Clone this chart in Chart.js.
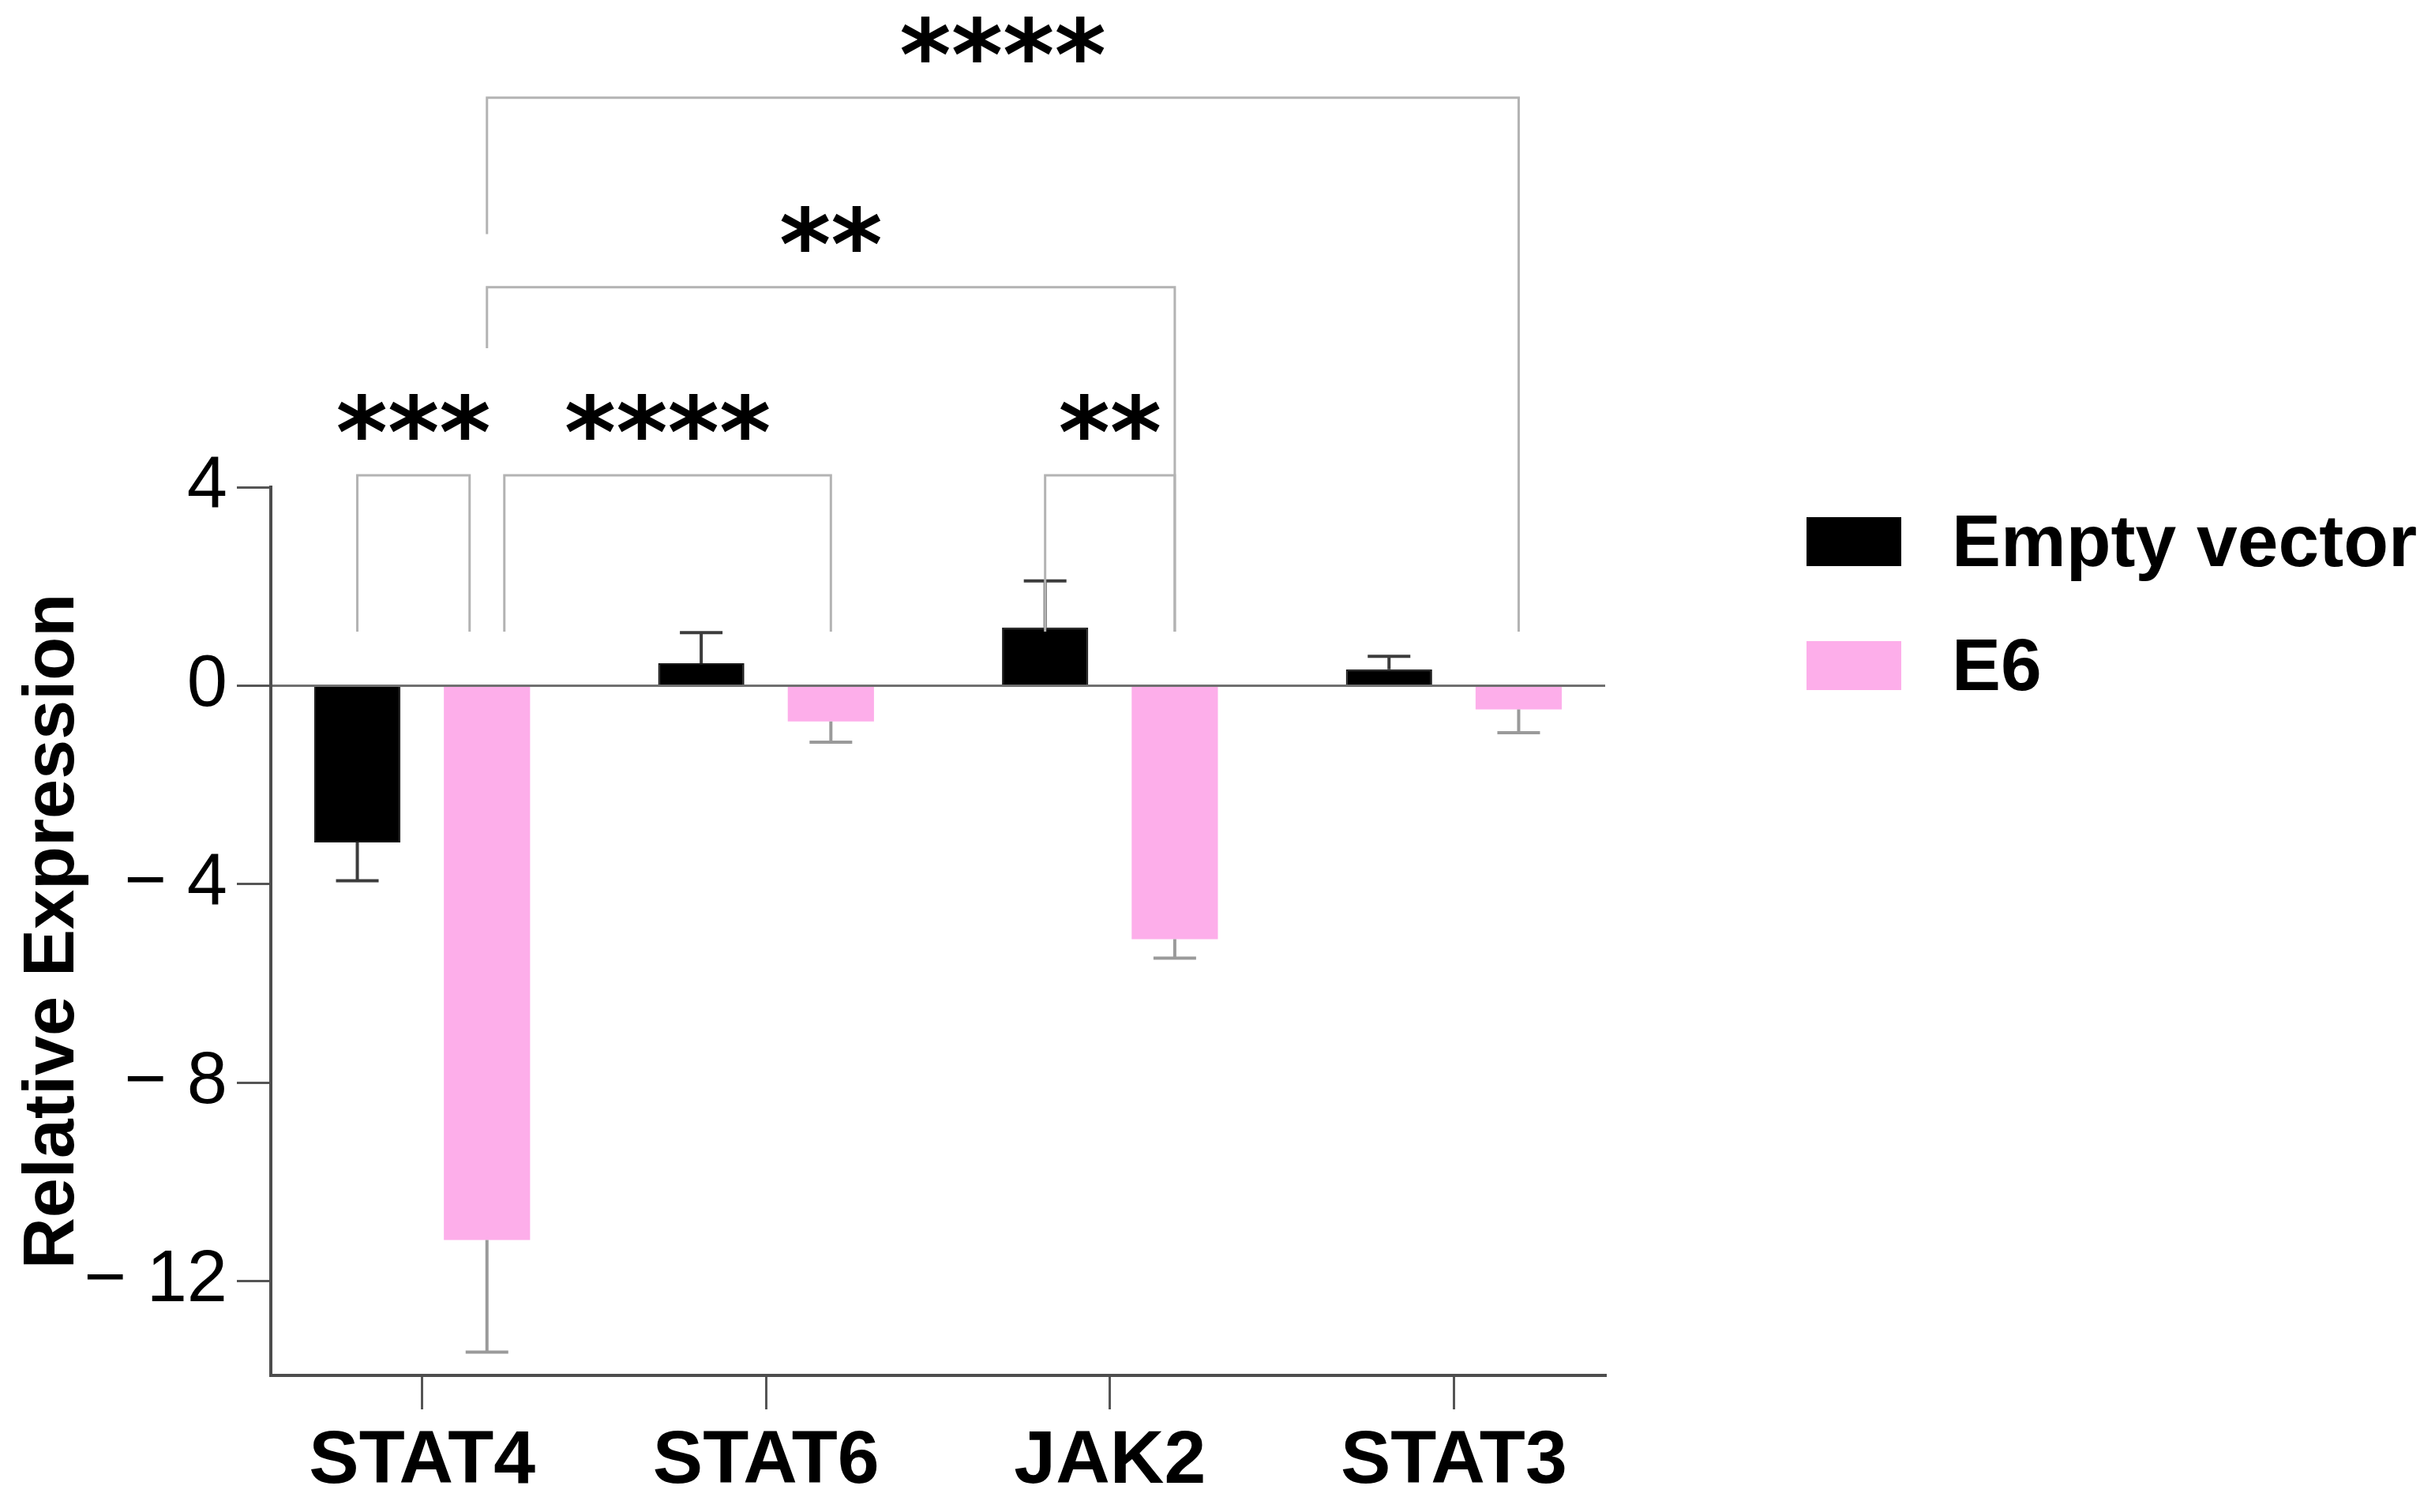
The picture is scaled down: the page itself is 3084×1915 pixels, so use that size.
<!DOCTYPE html>
<html>
<head>
<meta charset="utf-8">
<script src="https://cdn.jsdelivr.net/npm/chart.js@4.4.0/dist/chart.umd.min.js"></script>
<style>
  body { margin: 0; background: #fff; }
  #wrap { width: 3084px; height: 1915px; }
</style>
</head>
<body>
<div id="wrap"><canvas id="grafico" width="3084" height="1915"></canvas></div>
<script>
var categories = ['STAT4', 'STAT6', 'JAK2', 'STAT3'];
var seriesNames = ['Empty vector', 'E6'];
var emptyVector = [-3.16, 0.45, 1.17, 0.33];
var emptyVectorErr = [0.77, 0.62, 0.94, 0.26];
var e6 = [-11.17, -0.72, -5.11, -0.48];
var e6Err = [2.26, 0.42, 0.38, 0.47];
var yTickValues = [-12, -8, -4, 0, 4];

// significance brackets: [category, series] to [category, series]
var compFrom = [[0, 0], [0, 1], [2, 0], [0, 1], [0, 1]];
var compTo = [[0, 1], [1, 1], [2, 1], [2, 1], [3, 1]];
var compLabels = ['***', '****', '**', '**', '****'];

var FONT = "'Liberation Sans', Arial, sans-serif";

function points(vals) {
  return vals.map(function (v, i) { return { x: i, y: v }; });
}

var errorBars = {
  id: 'errorBars',
  afterDatasetsDraw: function (chart) {
    var ctx = chart.ctx, ys = chart.scales.y;
    chart.data.datasets.forEach(function (ds, d) {
      var meta = chart.getDatasetMeta(d);
      meta.data.forEach(function (bar, i) {
        var v = ds.data[i].y, e = ds.errors[i];
        var end = v < 0 ? v - e : v + e;
        var y0 = ys.getPixelForValue(v), y1 = ys.getPixelForValue(end);
        ctx.save();
        ctx.strokeStyle = ds.errorColor;
        ctx.lineWidth = 4;
        ctx.beginPath();
        ctx.moveTo(bar.x, y0); ctx.lineTo(bar.x, y1);
        ctx.moveTo(bar.x - 27, y1); ctx.lineTo(bar.x + 27, y1);
        ctx.stroke();
        ctx.restore();
      });
    });
  }
};

var brackets = {
  id: 'brackets',
  afterDraw: function (chart, args, opts) {
    var ctx = chart.ctx, ys = chart.scales.y;
    opts.items.forEach(function (it, k) {
      var a = chart.getDatasetMeta(compFrom[k][1]).data[compFrom[k][0]];
      var b = chart.getDatasetMeta(compTo[k][1]).data[compTo[k][0]];
      var xl = a.x + (it.nudgeL || 0), xr = b.x + (it.nudgeR || 0);
      var yt = ys.getPixelForValue(it.level);
      ctx.save();
      ctx.strokeStyle = '#b3b3b3';
      ctx.lineWidth = 3;
      ctx.beginPath();
      ctx.moveTo(xl, ys.getPixelForValue(it.legL));
      ctx.lineTo(xl, yt);
      ctx.lineTo(xr, yt);
      ctx.lineTo(xr, ys.getPixelForValue(it.legR));
      ctx.stroke();
      ctx.font = 'bold 125px "DejaVu Sans"';
      ctx.fillStyle = '#000';
      ctx.textAlign = 'center';
      ctx.textBaseline = 'alphabetic';
      var m = ctx.measureText(compLabels[k]);
      var target = yt - 74;
      var base = target + (m.actualBoundingBoxAscent - m.actualBoundingBoxDescent) / 2;
      ctx.fillText(compLabels[k], (xl + xr) / 2, base);
      ctx.restore();
    });
  }
};

var legendBoxes = {
  id: 'legendBoxes',
  afterDraw: function (chart) {
    var ctx = chart.ctx;
    var colors = ['#000000', '#fdaeea'];
    var tops = [655, 812];
    ctx.save();
    ctx.font = 'bold 93px ' + FONT;
    ctx.textBaseline = 'alphabetic';
    ctx.textAlign = 'left';
    seriesNames.forEach(function (n, i) {
      ctx.fillStyle = colors[i];
      ctx.fillRect(2288, tops[i], 120, 62);
      ctx.fillStyle = '#000';
      ctx.fillText(n, 2472, tops[i] + 62);
    });
    ctx.restore();
  }
};

new Chart(document.getElementById('grafico').getContext('2d'), {
  type: 'bar',
  data: {
    datasets: [{
      label: seriesNames[0],
      data: points(emptyVector),
      errors: emptyVectorErr,
      errorColor: '#3c3c3c',
      backgroundColor: '#000000',
      borderColor: '#1a1a1a',
      borderWidth: 2
    }, {
      label: seriesNames[1],
      data: points(e6),
      errors: e6Err,
      errorColor: '#9a9a9a',
      backgroundColor: '#fdaeea',
      borderWidth: 0
    }]
  },
  options: {
    responsive: false,
    animation: false,
    devicePixelRatio: 1,
    categoryPercentage: 0.754,
    barPercentage: 0.665,
    layout: { padding: { top: 617, right: 1051, left: 0, bottom: 0 } },
    plugins: {
      legend: { display: false },
      tooltip: { enabled: false },
      brackets: {
        items: [
          { level: 4.24, legL: 1.09, legR: 1.09, nudgeR: -22 },
          { level: 4.24, legL: 1.09, legR: 1.09, nudgeL: 22 },
          { level: 4.24, legL: 1.09, legR: 1.09 },
          { level: 8.03, legL: 6.8, legR: 1.09 },
          { level: 11.85, legL: 9.1, legR: 1.09 }
        ]
      }
    },
    scales: {
      x: {
        type: 'linear',
        offset: false,
        min: -0.44,
        max: 3.44,
        afterBuildTicks: function (s) {
          s.ticks = categories.map(function (c, i) { return { value: i }; });
        },
        afterFit: function (s) { s.height = 173; },
        grid: { offset: false, drawOnChartArea: false, drawTicks: true, tickLength: 43, tickColor: '#555', lineWidth: 3 },
        border: { display: true, color: '#4d4d4d', width: 4 },
        ticks: {
          padding: 10,
          color: '#000',
          font: { family: FONT, size: 95, weight: 'bold' },
          callback: function (v) { return categories[v]; }
        }
      },
      y: {
        min: -13.9,
        max: 4,
        afterBuildTicks: function (s) {
          s.ticks = yTickValues.map(function (v) { return { value: v }; });
        },
        afterFit: function (s) { s.width = 343; },
        grid: {
          drawOnChartArea: true,
          drawTicks: true,
          tickLength: 43,
          tickColor: '#555',
          lineWidth: 3,
          color: function (c) { return c.tick && c.tick.value === 0 ? '#707070' : 'rgba(0,0,0,0)'; }
        },
        border: { display: true, color: '#4d4d4d', width: 4 },
        ticks: {
          padding: 12,
          color: '#000',
          font: { family: FONT, size: 92 },
          callback: function (v) { return v < 0 ? '\u2212 ' + Math.abs(v) : String(v); }
        },
        title: {
          display: true,
          text: 'Relative Expression',
          color: '#000',
          font: { family: FONT, size: 90, weight: 'bold' },
          padding: { top: 14, bottom: 0 }
        }
      }
    }
  },
  plugins: [errorBars, brackets, legendBoxes]
});
</script>
</body>
</html>
